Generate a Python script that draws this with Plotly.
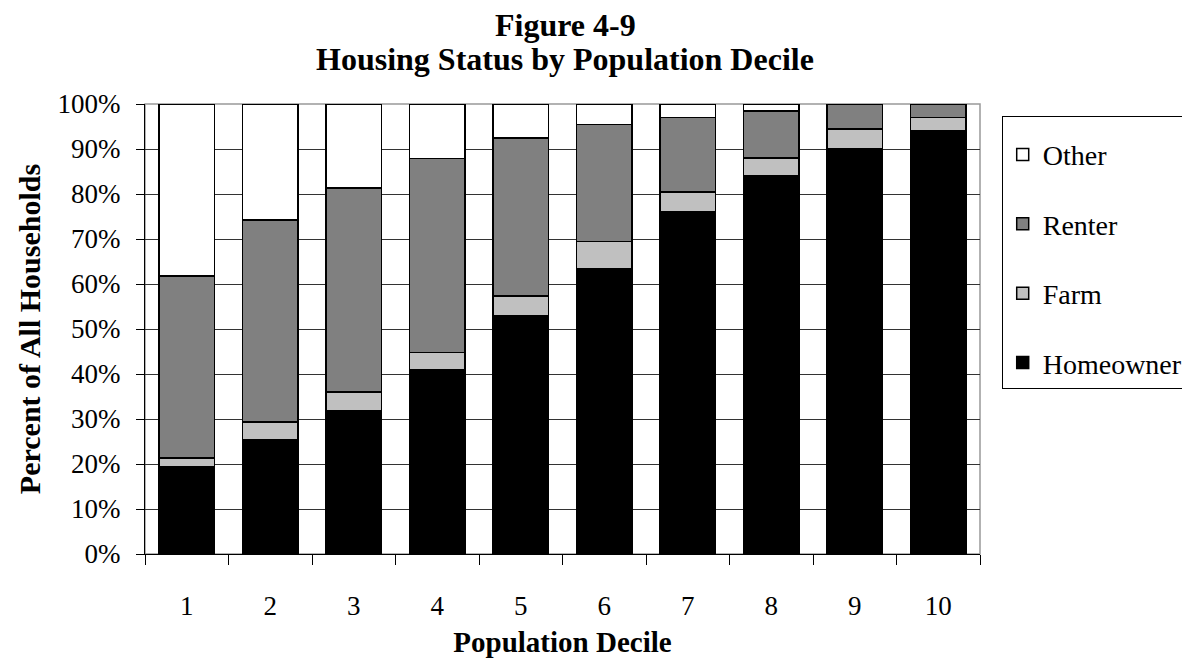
import plotly.graph_objects as go

deciles = ["1", "2", "3", "4", "5", "6", "7", "8", "9", "10"]
homeowner = [19.4, 25.5, 31.8, 41.0, 53.0, 63.5, 76.0, 84.0, 90.0, 94.0]
farm = [1.9, 3.8, 4.2, 3.8, 4.3, 6.0, 4.5, 4.0, 4.5, 3.0]
renter = [40.5, 44.9, 45.3, 43.1, 35.1, 26.0, 16.5, 10.5, 5.5, 3.0]
other = [38.2, 25.8, 18.7, 12.1, 7.6, 4.5, 3.0, 1.5, 0.0, 0.0]
y_tick_vals = [0, 10, 20, 30, 40, 50, 60, 70, 80, 90, 100]
y_tick_text = ["0%", "10%", "20%", "30%", "40%", "50%", "60%", "70%", "80%", "90%", "100%"]

FONT = "Liberation Serif"

series = [
    ("Homeowner", homeowner, "#000000", 4),
    ("Farm", farm, "#c0c0c0", 3),
    ("Renter", renter, "#808080", 2),
    ("Other", other, "#ffffff", 1),
]

fig = go.Figure()
for name, vals, col, rank in series:
    fig.add_trace(go.Bar(
        x=deciles, y=vals, name=name, legendgroup=name, legendrank=rank,
        marker=dict(color=col, line=dict(color="#000000", width=1.5)),
    ))

# page body has an 8px margin; compensate so the figure fills the 1190x658 window
fig.update_layout(
    barmode="stack",
    bargap=0.33,
    width=1182, height=650,
    margin=dict(l=137, r=210, t=96, b=104, autoexpand=False),
    paper_bgcolor="white", plot_bgcolor="white",
    font=dict(family=FONT, size=27, color="black"),
    legend=dict(
        x=1.026, xanchor="left", y=0.974, yanchor="top",
        traceorder="grouped", tracegroupgap=30,
        bordercolor="black", borderwidth=1, bgcolor="white",
        font=dict(family=FONT, size=28, color="black"),
        title=dict(text=" ", font=dict(family=FONT, size=10)),
    ),
    shapes=[dict(type="rect", xref="paper", yref="paper", x0=0, x1=1, y0=0, y1=1,
                 line=dict(color="#999999", width=1.5), layer="below")],
    annotations=[
        dict(text="<b>Figure 4-9</b>", xref="paper", yref="paper", x=0.503, y=1.176,
             xanchor="center", yanchor="middle", showarrow=False,
             font=dict(family=FONT, size=32, color="black")),
        dict(text="<b>Housing Status by Population Decile</b>", xref="paper", yref="paper",
             x=0.503, y=1.100, xanchor="center", yanchor="middle", showarrow=False,
             font=dict(family=FONT, size=32, color="black")),
    ],
)

fig.update_yaxes(
    range=[0, 100], tickvals=y_tick_vals, ticktext=y_tick_text,
    showgrid=True, gridcolor="#333333", gridwidth=1,
    showline=True, linecolor="black", linewidth=1,
    ticks="outside", ticklen=8, tickcolor="black",
    ticklabelstandoff=10, automargin=False,
    tickfont=dict(family=FONT, size=27),
    title=dict(text="<b>Percent of All Households</b>", standoff=8,
               font=dict(family=FONT, size=30)),
    zeroline=False,
)
fig.update_xaxes(
    showline=True, linecolor="black", linewidth=1,
    ticks="outside", ticklen=10, tickcolor="black", tickson="boundaries",
    ticklabelstandoff=28, automargin=False,
    tickfont=dict(family=FONT, size=27),
    title=dict(text="<b>Population Decile</b>", standoff=14,
               font=dict(family=FONT, size=29)),
)

fig.write_html("out.html")
